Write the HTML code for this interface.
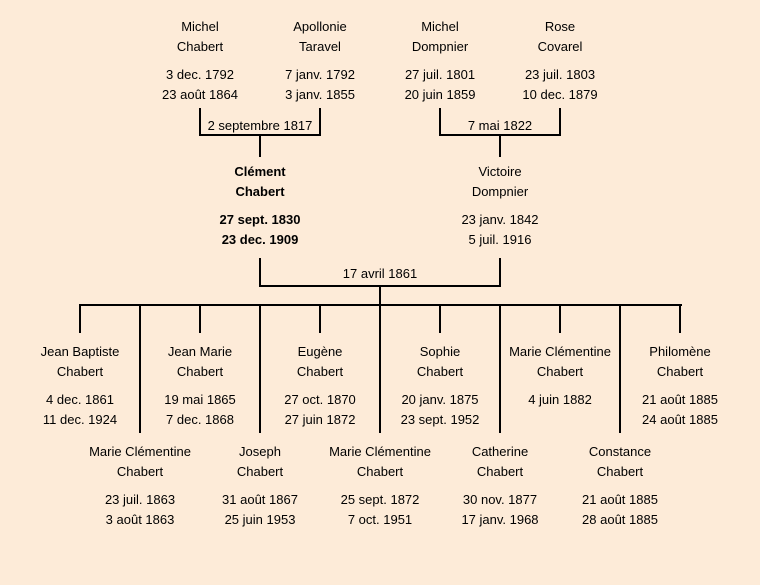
<!DOCTYPE html>
<html><head><meta charset="utf-8"><style>
body{margin:0;width:760px;height:585px;background:#fdebd8;position:relative;overflow:hidden;font-family:"Liberation Sans",sans-serif;font-size:13px;color:#000}
.t{position:absolute;width:160px;margin-left:-80px;text-align:center;line-height:20px;white-space:nowrap}
.b{font-weight:bold}
.l{position:absolute;background:#000}
.lab{position:absolute;width:160px;margin-left:-80px;text-align:center;line-height:16px;font-size:13px}
</style></head><body>
<!-- top row -->
<div class="t" style="left:200px;top:17px">Michel<br>Chabert</div>
<div class="t" style="left:200px;top:65px">3 dec. 1792<br>23 août 1864</div>
<div class="t" style="left:320px;top:17px">Apollonie<br>Taravel</div>
<div class="t" style="left:320px;top:65px">7 janv. 1792<br>3 janv. 1855</div>
<div class="t" style="left:440px;top:17px">Michel<br>Dompnier</div>
<div class="t" style="left:440px;top:65px">27 juil. 1801<br>20 juin 1859</div>
<div class="t" style="left:560px;top:17px">Rose<br>Covarel</div>
<div class="t" style="left:560px;top:65px">23 juil. 1803<br>10 dec. 1879</div>
<!-- couple lines top -->
<div class="l" style="left:199px;top:108px;width:2px;height:28px"></div>
<div class="l" style="left:319px;top:108px;width:2px;height:28px"></div>
<div class="l" style="left:199px;top:134px;width:122px;height:2px"></div>
<div class="lab" style="left:260px;top:118px">2 septembre 1817</div>
<div class="l" style="left:259px;top:134px;width:2px;height:23px"></div>
<div class="l" style="left:439px;top:108px;width:2px;height:28px"></div>
<div class="l" style="left:559px;top:108px;width:2px;height:28px"></div>
<div class="l" style="left:439px;top:134px;width:122px;height:2px"></div>
<div class="lab" style="left:500px;top:118px">7 mai 1822</div>
<div class="l" style="left:499px;top:134px;width:2px;height:23px"></div>
<!-- middle -->
<div class="t b" style="left:260px;top:162px">Clément<br>Chabert</div>
<div class="t b" style="left:260px;top:210px">27 sept. 1830<br>23 dec. 1909</div>
<div class="t" style="left:500px;top:162px">Victoire<br>Dompnier</div>
<div class="t" style="left:500px;top:210px">23 janv. 1842<br>5 juil. 1916</div>
<div class="l" style="left:259px;top:258px;width:2px;height:29px"></div>
<div class="l" style="left:499px;top:258px;width:2px;height:29px"></div>
<div class="l" style="left:259px;top:285px;width:242px;height:2px"></div>
<div class="lab" style="left:380px;top:266px">17 avril 1861</div>
<div class="l" style="left:379px;top:285px;width:2px;height:21px"></div>
<div class="l" style="left:79px;top:304px;width:603px;height:2px"></div>
<!-- short verticals -->
<div class="l" style="left:79px;top:304px;width:2px;height:29px"></div>
<div class="l" style="left:199px;top:304px;width:2px;height:29px"></div>
<div class="l" style="left:319px;top:304px;width:2px;height:29px"></div>
<div class="l" style="left:439px;top:304px;width:2px;height:29px"></div>
<div class="l" style="left:559px;top:304px;width:2px;height:29px"></div>
<div class="l" style="left:679px;top:304px;width:2px;height:29px"></div>
<!-- long verticals -->
<div class="l" style="left:139px;top:304px;width:2px;height:129px"></div>
<div class="l" style="left:259px;top:304px;width:2px;height:129px"></div>
<div class="l" style="left:379px;top:304px;width:2px;height:129px"></div>
<div class="l" style="left:499px;top:304px;width:2px;height:129px"></div>
<div class="l" style="left:619px;top:304px;width:2px;height:129px"></div>
<!-- children upper -->
<div class="t" style="left:80px;top:342px">Jean Baptiste<br>Chabert</div>
<div class="t" style="left:80px;top:390px">4 dec. 1861<br>11 dec. 1924</div>
<div class="t" style="left:200px;top:342px">Jean Marie<br>Chabert</div>
<div class="t" style="left:200px;top:390px">19 mai 1865<br>7 dec. 1868</div>
<div class="t" style="left:320px;top:342px">Eugène<br>Chabert</div>
<div class="t" style="left:320px;top:390px">27 oct. 1870<br>27 juin 1872</div>
<div class="t" style="left:440px;top:342px">Sophie<br>Chabert</div>
<div class="t" style="left:440px;top:390px">20 janv. 1875<br>23 sept. 1952</div>
<div class="t" style="left:560px;top:342px">Marie Clémentine<br>Chabert</div>
<div class="t" style="left:560px;top:390px">4 juin 1882</div>
<div class="t" style="left:680px;top:342px">Philomène<br>Chabert</div>
<div class="t" style="left:680px;top:390px">21 août 1885<br>24 août 1885</div>
<!-- children lower -->
<div class="t" style="left:140px;top:442px">Marie Clémentine<br>Chabert</div>
<div class="t" style="left:140px;top:490px">23 juil. 1863<br>3 août 1863</div>
<div class="t" style="left:260px;top:442px">Joseph<br>Chabert</div>
<div class="t" style="left:260px;top:490px">31 août 1867<br>25 juin 1953</div>
<div class="t" style="left:380px;top:442px">Marie Clémentine<br>Chabert</div>
<div class="t" style="left:380px;top:490px">25 sept. 1872<br>7 oct. 1951</div>
<div class="t" style="left:500px;top:442px">Catherine<br>Chabert</div>
<div class="t" style="left:500px;top:490px">30 nov. 1877<br>17 janv. 1968</div>
<div class="t" style="left:620px;top:442px">Constance<br>Chabert</div>
<div class="t" style="left:620px;top:490px">21 août 1885<br>28 août 1885</div>
</body></html>
